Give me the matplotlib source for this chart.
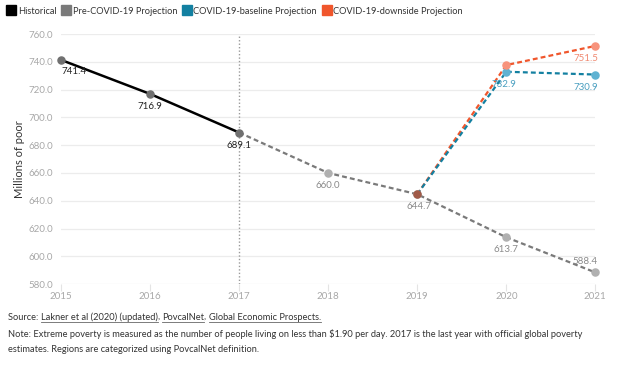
import matplotlib
matplotlib.use("Agg")
import matplotlib.pyplot as plt
from matplotlib.lines import Line2D

# ---- data ----
hist_years = [2015, 2016, 2017]
hist_vals = [741.4, 716.9, 689.1]
pre_years = [2017, 2018, 2019, 2020, 2021]
pre_vals = [689.1, 660.0, 644.7, 613.7, 588.4]
base_years = [2019, 2020, 2021]
base_vals = [644.7, 732.9, 730.9]
down_years = [2019, 2020, 2021]
down_vals = [644.7, 737.7, 751.5]
yticks = [580, 600, 620, 640, 660, 680, 700, 720, 740, 760]
xticks = [2015, 2016, 2017, 2018, 2019, 2020, 2021]
legend_labels = ["Historical", "Pre-COVID-19 Projection",
                 "COVID-19-baseline Projection", "COVID-19-downside Projection"]

plt.rcParams['font.family'] = ['Lato', 'DejaVu Sans']

C_HIST = "#000000"
C_PRE = "#7a7a7a"
C_BASE = "#1380a1"
C_DOWN = "#f0562c"

fig = plt.figure(figsize=(6.24, 3.67), dpi=100)
ax = fig.add_axes([0.098, 0.226, 0.856, 0.681])

ax.set_xlim(2015, 2021)
ax.set_ylim(580, 760)
ax.set_yticks(yticks)
ax.set_yticklabels([f"{v:.1f}" for v in yticks])
ax.set_xticks(xticks)
ax.set_xticklabels([str(v) for v in xticks])
ax.grid(axis='y', color="#ececec", linewidth=0.9)
ax.set_axisbelow(True)
for s in ax.spines.values():
    s.set_visible(False)
ax.tick_params(axis='y', length=0, labelsize=7, labelcolor="#a8a8a8", pad=6)
ax.tick_params(axis='x', length=5, color="#e4e4e4", labelsize=7, labelcolor="#a8a8a8", pad=1)
ax.axvline(2017, color="#9a9a9a", linestyle=(0, (1, 1.5)), linewidth=1)
ax.set_ylabel("Millions of poor", fontsize=8, color="#333333", labelpad=2)

# lines
ax.plot(pre_years, pre_vals, color=C_PRE, linestyle=(0, (2.2, 1.4)), linewidth=1.6, zorder=3)
ax.plot(down_years, down_vals, color=C_DOWN, linestyle=(0, (2.2, 1.4)), linewidth=1.6, zorder=3)
ax.plot(base_years, base_vals, color=C_BASE, linestyle=(0, (2.2, 1.4)), linewidth=1.6, zorder=3)
ax.plot(hist_years, hist_vals, color=C_HIST, linewidth=1.8, zorder=4)

# markers
ms = 26
ax.scatter(hist_years, hist_vals, s=ms, color="#707070", zorder=5, clip_on=False)
ax.scatter(pre_years[1:], pre_vals[1:], s=ms, color="#b0b0b0", zorder=5, clip_on=False)
ax.scatter(base_years[1:], base_vals[1:], s=ms, color="#5fb2d2", zorder=6, clip_on=False)
ax.scatter(down_years[1:], down_vals[1:], s=ms, color="#f7937c", zorder=6, clip_on=False)
ax.scatter([2019], [644.7], s=ms, color="#a05a48", zorder=7, clip_on=False)

# labels
def lab(x, y, t, c, dx=0, dy=-9, ha='center'):
    ax.annotate(t, (x, y), xytext=(dx, dy), textcoords='offset points',
                ha=ha, va='center', fontsize=7, color=c, zorder=8)

lab(2015, 741.4, "741.4", "#222222", dx=0, dy=-8, ha='left')
lab(2016, 716.9, "716.9", "#222222")
lab(2017, 689.1, "689.1", "#222222")
lab(2018, 660.0, "660.0", "#8a8a8a")
lab(2019, 644.7, "644.7", "#8a8a8a", dx=-8, ha='left')
lab(2020, 613.7, "613.7", "#8a8a8a")
lab(2021, 588.4, "588.4", "#8a8a8a", dx=2, dy=8, ha='right')
lab(2020, 732.9, "732.9", "#4a9fc0", dx=-2)
lab(2021, 730.9, "730.9", "#4a9fc0", dx=2, ha='right')
lab(2021, 751.5, "751.5", "#f08a72", dx=2, ha='right')

# legend
handles = [Line2D([], [], marker='s', linestyle='none', markersize=6.5, color=c)
           for c in [C_HIST, C_PRE, C_BASE, C_DOWN]]
fig.legend(handles, legend_labels, loc='upper left', bbox_to_anchor=(0.0, 1.0),
           ncol=4, frameon=False, fontsize=6.7, handletextpad=0.2, columnspacing=0.55,
           handlelength=1.0, borderaxespad=0.3, labelcolor="#333333")

# footer
fs = 6.7
txt_color = "#333333"
fig.canvas.draw()
renderer = fig.canvas.get_renderer()
x = 8 / 624
y = 1 - 320 / 367
parts = [("Source: ", False), ("Lakner et al (2020) (updated)", True), (", ", False),
         ("PovcalNet", True), (", ", False), ("Global Economic Prospects.", True)]
for t, ul in parts:
    tx = fig.text(x, y, t, fontsize=fs, color=txt_color, va='baseline', ha='left')
    bb = tx.get_window_extent(renderer)
    x1 = (bb.x1) / fig.bbox.width
    if ul:
        yl = y - 2 / 367
        fig.add_artist(Line2D([x, x1], [yl, yl], transform=fig.transFigure,
                              color="#666666", linewidth=0.6))
    x = x1
fig.text(8 / 624, 1 - 337 / 367,
         "Note: Extreme poverty is measured as the number of people living on less than $1.90 per day. "
         "2017 is the last year with official global poverty",
         fontsize=fs, color=txt_color, va='baseline', ha='left')
fig.text(8 / 624, 1 - 352 / 367,
         "estimates. Regions are categorized using PovcalNet definition.",
         fontsize=fs, color=txt_color, va='baseline', ha='left')

fig.savefig("out.png", dpi=100)
